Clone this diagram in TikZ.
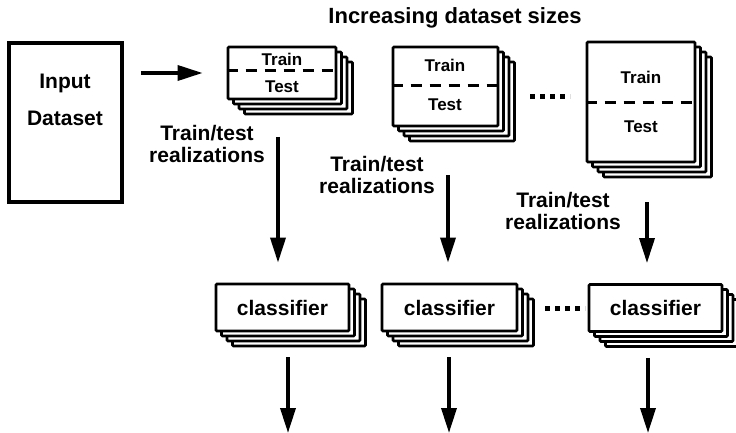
\documentclass[tikz,border=0pt]{standalone}
\usepackage{fontspec}
\setmainfont{Liberation Sans}
\usetikzlibrary{arrows.meta,shadows}
\tikzset{
  bigbox/.style={draw, fill=white, line width=3.5pt, inner sep=0pt},
  stackbox/.style={draw, fill=white, line width=2.8pt, inner sep=0pt, rounded corners=1pt,
    copy shadow={shadow xshift=16.5pt, shadow yshift=-15pt},
    copy shadow={shadow xshift=11pt, shadow yshift=-10pt},
    copy shadow={shadow xshift=5.5pt, shadow yshift=-5pt}},
  lbl/.style={inner sep=0pt, font=\fontsize{21}{22}\selectfont\bfseries, align=center},
  ttl/.style={inner sep=0pt, font=\fontsize{22}{24}\selectfont\bfseries},
  tt/.style={inner sep=0pt, font=\fontsize{17}{19}\selectfont\bfseries},
  divider/.style={line width=3pt, dash pattern=on 11pt off 8pt},
  arr/.style={line width=3.5pt, -{Triangle[width=15pt,length=25pt]}},
  dotline/.style={line width=5pt, dash pattern=on 5pt off 5pt}
}
\begin{document}
\begin{tikzpicture}[x=1pt,y=-1pt]
\useasboundingbox (0,0) rectangle (736,433);

% title
\node[ttl] (title) at (455,18) {Increasing dataset sizes};

% input
\node[bigbox, minimum width=113pt, minimum height=159pt] (inp) at (65.5,122.5) {};
\node[lbl] (inpt) at (65,83) {Input};
\node[lbl] (inpd) at (65,118) {Dataset};

% stacks of train/test splits
\node[stackbox, minimum width=108pt, minimum height=52pt] (s1) at (282,73) {};
\node[stackbox, minimum width=105pt, minimum height=79pt] (s2) at (445.5,86.5) {};
\node[stackbox, minimum width=108pt, minimum height=120pt] (s3) at (641,102) {};

\coordinate (d1) at (0,71);
\coordinate (d2) at (0,86);
\coordinate (d3) at (0,103);
\draw[divider] (s1.west |- d1) -- (s1.east |- d1);
\draw[divider] (s2.west |- d2) -- (s2.east |- d2);
\draw[divider] (s3.west |- d3) -- (s3.east |- d3);

\node[tt] (s1a) at (282,59) {Train};
\node[tt] (s1b) at (282,87) {Test};
\node[tt] (s2a) at (445,65) {Train};
\node[tt] (s2b) at (445,105) {Test};
\node[tt] (s3a) at (641,77) {Train};
\node[tt] (s3b) at (641,127) {Test};

\draw[dotline] (530,97) -- (570,97);

% input arrow
\draw[arr, shorten <=17pt, shorten >=24pt] (inp.east |- s1.west) -- (s1.west);

% classifiers
\node[stackbox, lbl, minimum width=133pt, minimum height=47pt] (c1) at (282.5,307.5) {classifier};
\node[stackbox, lbl, minimum width=135pt, minimum height=47pt] (c2) at (449.5,307.5) {classifier};
\node[stackbox, lbl, minimum width=133pt, minimum height=47pt] (c3) at (655.5,308) {classifier};

\draw[dotline] (545,308) -- (585,308);

% labels
\node[lbl] (l1) at (207,144) {Train/test\\realizations};
\node[lbl] (l2) at (377,174.5) {Train/test\\realizations};
\node[lbl] (l3) at (563,210.5) {Train/test\\realizations};

% down arrows to classifiers
\coordinate (a1) at (278,137);
\coordinate (a2) at (448,175);
\coordinate (a3) at (647,202);
\draw[arr, shorten >=20pt] (a1) -- (a1 |- c1.north);
\draw[arr, shorten >=20pt] (a2) -- (a2 |- c2.north);
\draw[arr, shorten >=20pt] (a3) -- (a3 |- c3.north);

% output arrows
\coordinate (bot) at (0,433);
\draw[arr, shorten <=25pt] ([xshift=5.5pt]c1.south) -- ([xshift=5.5pt]c1.south |- bot);
\draw[arr, shorten <=25pt] ([xshift=-0.5pt]c2.south) -- ([xshift=-0.5pt]c2.south |- bot);
\draw[arr, shorten <=25pt] ([xshift=-7.5pt]c3.south) -- ([xshift=-7.5pt]c3.south |- bot);
\end{tikzpicture}
\end{document}
